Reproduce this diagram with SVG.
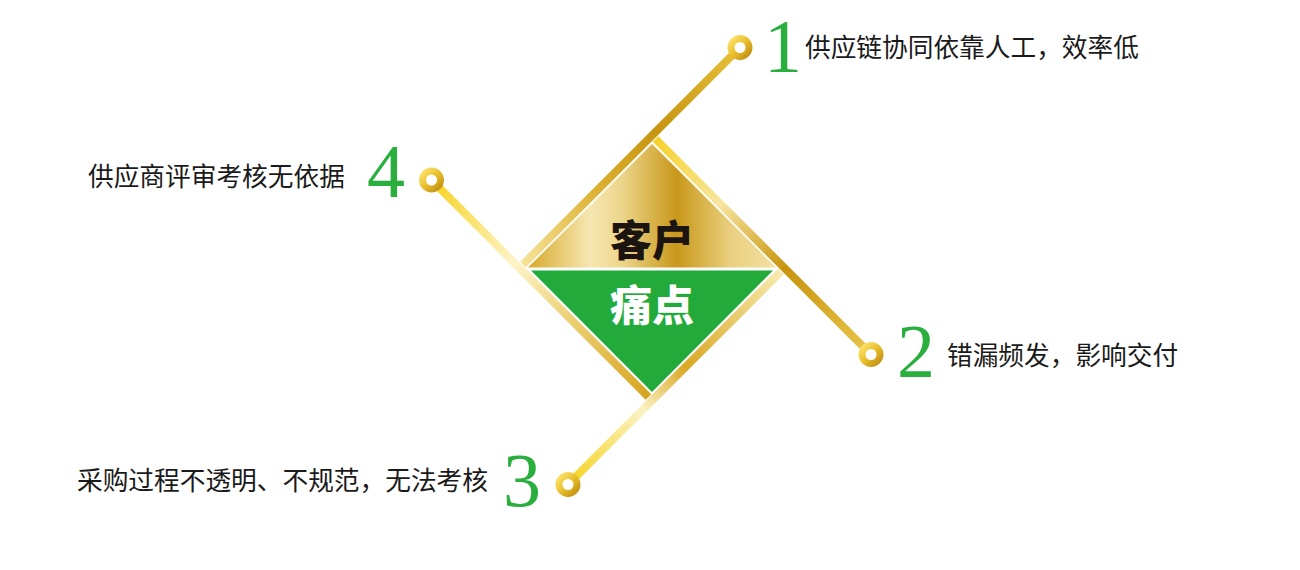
<svg xmlns="http://www.w3.org/2000/svg" width="1300" height="570" viewBox="0 0 1300 570">
<style>
.lbl{font-family:"Noto Sans CJK SC","Noto Sans",sans-serif;font-size:25.7px;fill:#1a1a1a}
.num{font-family:"Liberation Serif","DejaVu Serif",serif;font-size:76px;fill:#2aae3e;text-anchor:middle}
.band{stroke-width:8;stroke-linecap:butt;fill:none}
.ring{fill:#fff;stroke:url(#ringG);stroke-width:7}
.title{font-family:"Noto Sans CJK SC",sans-serif;font-weight:900;font-size:42px;text-anchor:middle}
</style>
<defs>
<linearGradient id="ringG" x1="0" y1="0" x2="1" y2="1">
<stop offset="0" stop-color="#fbe36a"/><stop offset="0.5" stop-color="#e8bf2c"/><stop offset="1" stop-color="#c39012"/>
</linearGradient>
<linearGradient id="topG" gradientUnits="userSpaceOnUse" x1="528" y1="0" x2="776" y2="0">
<stop offset="0" stop-color="#d8aa2c"/><stop offset="0.25" stop-color="#f6e7b2"/><stop offset="0.38" stop-color="#ecd58a"/><stop offset="0.6" stop-color="#c9981a"/><stop offset="0.82" stop-color="#ead080"/><stop offset="1" stop-color="#f2e0a2"/>
</linearGradient>
<linearGradient id="g1" gradientUnits="userSpaceOnUse" x1="523" y1="264.5" x2="740" y2="47.5">
<stop offset="0" stop-color="#f6e39a"/><stop offset="0.35" stop-color="#dcb030"/><stop offset="0.62" stop-color="#c7940f"/><stop offset="1" stop-color="#e8c23a"/>
</linearGradient>
<linearGradient id="g2" gradientUnits="userSpaceOnUse" x1="655.5" y1="139" x2="871" y2="354.5">
<stop offset="0" stop-color="#f7d22a"/><stop offset="0.3" stop-color="#f6e6a0"/><stop offset="0.6" stop-color="#c8940c"/><stop offset="1" stop-color="#e9c64e"/>
</linearGradient>
<linearGradient id="g3" gradientUnits="userSpaceOnUse" x1="781" y1="271.5" x2="568" y2="484.5">
<stop offset="0" stop-color="#f8eab0"/><stop offset="0.45" stop-color="#d9a824"/><stop offset="0.65" stop-color="#fbf2c4"/><stop offset="1" stop-color="#f5d31a"/>
</linearGradient>
<linearGradient id="g4" gradientUnits="userSpaceOnUse" x1="648.5" y1="397" x2="431.5" y2="180">
<stop offset="0" stop-color="#d6a520"/><stop offset="0.35" stop-color="#eccf72"/><stop offset="0.62" stop-color="#fdf4c8"/><stop offset="1" stop-color="#f7d21e"/>
</linearGradient>
</defs>
<rect width="1300" height="570" fill="#fff"/>
<g id="center">
<polygon points="528,267.5 652,144 776,267.5" fill="url(#topG)"/>
<polygon points="531,270.5 773,270.5 652,392" fill="#22aa3b"/>
<text class="title" x="652" y="256" fill="#1c1410">客户</text>
<text class="title" x="652" y="321" fill="#ffffff">痛点</text>
</g>
<g id="connectors">
<line class="band" x1="523" y1="264.5" x2="740" y2="47.5" stroke="url(#g1)"/>
<line class="band" x1="655.5" y1="139" x2="871" y2="354.5" stroke="url(#g2)"/>
<line class="band" x1="781" y1="271.5" x2="568" y2="484.5" stroke="url(#g3)"/>
<line class="band" x1="648.5" y1="397" x2="431.5" y2="180" stroke="url(#g4)"/>
</g>
<g id="node1">
<circle class="ring" cx="740" cy="47.5" r="9"/>
<text class="num" x="783" y="72">1</text>
<text class="lbl" x="805" y="57">供应链协同依靠人工，效率低</text>
</g>
<g id="node2">
<circle class="ring" cx="871" cy="354.5" r="9"/>
<text class="num" x="916" y="377">2</text>
<text class="lbl" x="947" y="365">错漏频发，影响交付</text>
</g>
<g id="node3">
<circle class="ring" cx="568" cy="484.5" r="9"/>
<text class="num" x="522" y="506">3</text>
<text class="lbl" x="77" y="490">采购过程不透明、不规范，无法考核</text>
</g>
<g id="node4">
<circle class="ring" cx="431.5" cy="180" r="9"/>
<text class="num" x="386" y="197">4</text>
<text class="lbl" x="88" y="186">供应商评审考核无依据</text>
</g>
</svg>
